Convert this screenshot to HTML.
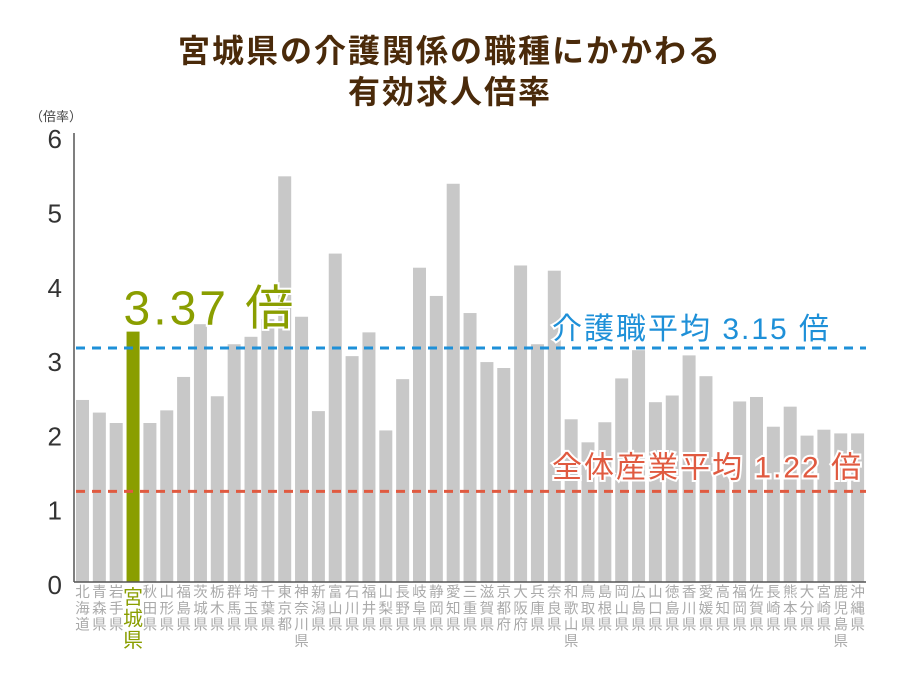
<!DOCTYPE html>
<html><head><meta charset="utf-8"><style>
html,body{margin:0;padding:0;background:#fff;}
svg{display:block;font-family:"Liberation Sans","Noto Sans CJK JP",sans-serif;}
</style></head><body>
<svg id="chart" width="900" height="675" viewBox="0 0 900 675">
<text x="450" y="62" text-anchor="middle" font-size="32" font-weight="bold" letter-spacing="2" fill="#4a2a0a">宮城県の介護関係の職種にかかわる</text>
<text x="450" y="103" text-anchor="middle" font-size="32" font-weight="bold" letter-spacing="2" fill="#4a2a0a">有効求人倍率</text>
<text x="56" y="121" text-anchor="middle" font-size="13" fill="#444">（倍率）</text>
<g id="ticks"></g>
<g id="bars"></g>
<g id="labels"></g>
<line x1="74" y1="133" x2="74" y2="582" stroke="#555" stroke-width="1.5"/>
<line x1="74" y1="582" x2="866" y2="582" stroke="#555" stroke-width="1.5"/>
<g id="refs"></g>
</svg>
<script>
const categories=["北海道","青森県","岩手県","宮城県","秋田県","山形県","福島県","茨城県","栃木県","群馬県","埼玉県","千葉県","東京都","神奈川県","新潟県","富山県","石川県","福井県","山梨県","長野県","岐阜県","静岡県","愛知県","三重県","滋賀県","京都府","大阪府","兵庫県","奈良県","和歌山県","鳥取県","島根県","岡山県","広島県","山口県","徳島県","香川県","愛媛県","高知県","福岡県","佐賀県","長崎県","熊本県","大分県","宮崎県","鹿児島県","沖縄県"];
const values=[2.45,2.28,2.14,3.37,2.14,2.31,2.76,3.47,2.50,3.20,3.30,3.54,5.46,3.57,2.30,4.42,3.04,3.36,2.04,2.73,4.23,3.85,5.36,3.62,2.96,2.88,4.26,3.20,4.19,2.19,1.88,2.15,2.74,3.12,2.42,2.51,3.05,2.77,1.50,2.43,2.49,2.09,2.36,1.97,2.05,2.00,2.00];
const yTicks=[0,1,2,3,4,5,6];
const careAvg=[3.15];
const allAvg=[1.22];
const highlight="宮城県";
const NS="http://www.w3.org/2000/svg";
const y0=582,pxPerUnit=74.3;
function yScale(v){return y0-v*pxPerUnit;}
function xScale(i){return 76+i*16.85;}
function mk(tag,attrs,parent){const e=document.createElementNS(NS,tag);for(const k in attrs)e.setAttribute(k,attrs[k]);parent.appendChild(e);return e;}
const tg=document.getElementById('ticks');
yTicks.forEach(t=>{const e=mk('text',{x:62,y:yScale(t)+12,'text-anchor':'end','font-size':'26',fill:'#333'},tg);


e.textContent=t;});
const bg=document.getElementById('bars'),lg=document.getElementById('labels');
categories.forEach((c,i)=>{const hi=c===highlight;const x=xScale(i);
const r=mk('rect',{x:x,y:yScale(values[i]),width:13,height:values[i]*pxPerUnit,fill:hi?'#8a9e00':'#c8c8c8'},bg);


const t=mk('text',{'text-anchor':'middle','font-size':hi?'20':'14.5',fill:hi?'#8a9e00':'#aaa'},lg);


[...c].forEach((ch,k)=>{const s=mk('tspan',{x:x+6.5,y:hi?(604+k*21.5):(597+k*16.3)},t);s.textContent=ch;});
if(hi){const v=mk('text',{x:x-3,y:yScale(values[i])-7,'font-size':'48','letter-spacing':'3',fill:'#8a9e00',stroke:'#fff','stroke-width':'4','paint-order':'stroke'},lg);


v.textContent=values[i].toFixed(2)+' 倍';}
});
const rg=document.getElementById('refs');
function ref(val,color,label,name,ty){const y=yScale(val);
const l=mk('line',{x1:76,x2:866,y1:y,y2:y,stroke:color,'stroke-width':'3','stroke-dasharray':'9 7'},rg);


const t=mk('text',{x:552,y:y+ty,'font-size':'30','letter-spacing':'2',fill:color,stroke:'#fff','stroke-width':'4','paint-order':'stroke'},rg);


t.textContent=label+' '+val.toFixed(2)+' 倍';}
ref(careAvg[0],'#1e90d8','介護職平均','care-average',-9);
ref(allAvg[0],'#e05a40','全体産業平均','all-industry-average',-14);
</script>
</body></html>
